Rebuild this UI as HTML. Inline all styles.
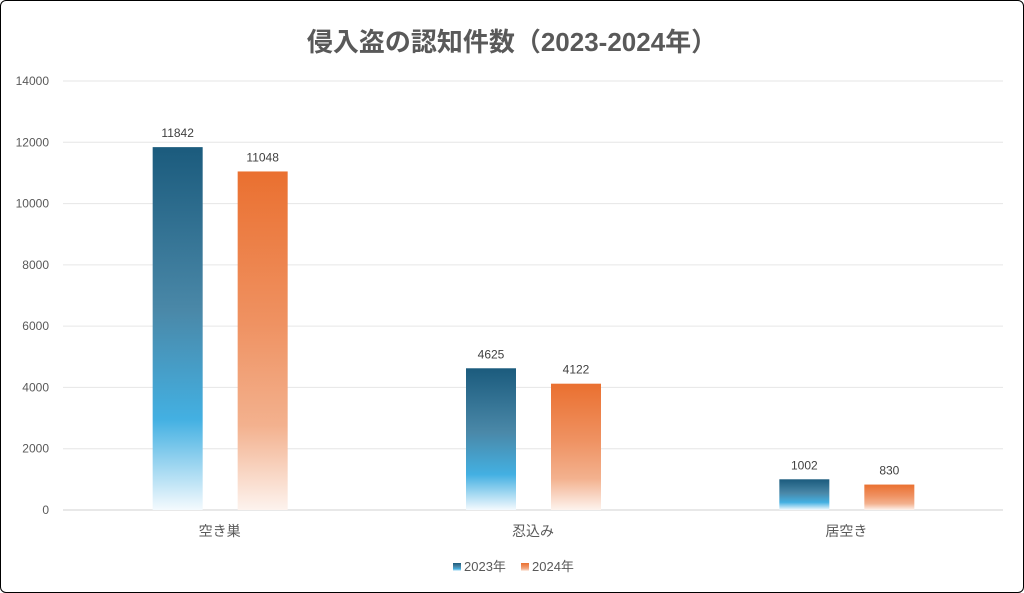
<!DOCTYPE html>
<html><head><meta charset="utf-8"><style>
body{margin:0;background:#fff;}
#wrap{width:1022px;height:591px;border:1px solid #000;border-radius:6px;overflow:hidden;position:relative;background:#fff;}
text{font-family:"Liberation Sans","Noto Sans CJK JP",sans-serif;}
</style></head><body>
<div id="wrap">
<svg id="chart" width="1022" height="591">
<defs>
<linearGradient id="gBlue" x1="0" y1="0" x2="0" y2="1">
<stop offset="0" stop-color="#1b5b7d"/><stop offset="0.45" stop-color="#4a88a8"/><stop offset="0.75" stop-color="#43b0e2"/><stop offset="1" stop-color="#f4fafe"/>
</linearGradient>
<linearGradient id="gOrange" x1="0" y1="0" x2="0" y2="1">
<stop offset="0" stop-color="#ea7030"/><stop offset="0.45" stop-color="#ef9262"/><stop offset="0.75" stop-color="#f3b18e"/><stop offset="1" stop-color="#fdf3ee"/>
</linearGradient>
</defs>
<text x="511" y="50" text-anchor="middle" font-size="26" font-weight="bold" fill="#595959">侵入盗の認知件数（2023-2024年）</text>
<g id="grid"></g><g id="bars"></g>
<g>
<rect x="452" y="562" width="8" height="8" fill="url(#gBlue)"/>
<text x="463" y="570" font-size="13" fill="#595959">2023年</text>
<rect x="520" y="562" width="8" height="8" fill="url(#gOrange)"/>
<text x="531" y="570" font-size="13" fill="#595959">2024年</text>
</g>
</svg></div>
<script>
const categories=["空き巣","忍込み","居空き"];
const series2023=[11842,4625,1002];
const series2024=[11048,4122,830];
const yTicks=[0,2000,4000,6000,8000,10000,12000,14000];
const NS="http://www.w3.org/2000/svg";
const L=62,R=1002,Y0=509,Y1=80,MAX=14000;
const y=v=>Y0-(v/MAX)*(Y0-Y1);
const bw=(R-L)/categories.length;
const grid=document.getElementById('grid'),bars=document.getElementById('bars');
function mk(t,a,p){const e=document.createElementNS(NS,t);for(const k in a)e.setAttribute(k,a[k]);p.appendChild(e);return e;}
yTicks.forEach(t=>{
 const ln=mk('line',{x1:L,x2:R,y1:y(t),y2:y(t),stroke:t===0?'#d0d0d0':'#e6e6e6','stroke-width':1},grid);
 
 
 const tx=mk('text',{x:48,y:y(t)+4,'text-anchor':'end','font-size':12,fill:'#595959'},grid);
 tx.textContent=t;
 
 
});
categories.forEach((c,i)=>{
 const cx=L+bw*(i+0.5);
 [[series2023,'url(#gBlue)',-67,'2023'],[series2024,'url(#gOrange)',18,'2024']].forEach(([s,f,off,yr])=>{
  const v=s[i];
  const r=mk('rect',{x:cx+off,y:y(v),width:50,height:Y0-y(v),fill:f},bars);
  
  
  const t=mk('text',{x:cx+off+25,y:y(v)-10,'text-anchor':'middle','font-size':12,fill:'#404040'},bars);
  t.textContent=v;
  
  
 });
 const ct=mk('text',{x:cx,y:535,'text-anchor':'middle','font-size':14,fill:'#595959'},bars);
 ct.textContent=c;
 
 
});
</script>
</body></html>
